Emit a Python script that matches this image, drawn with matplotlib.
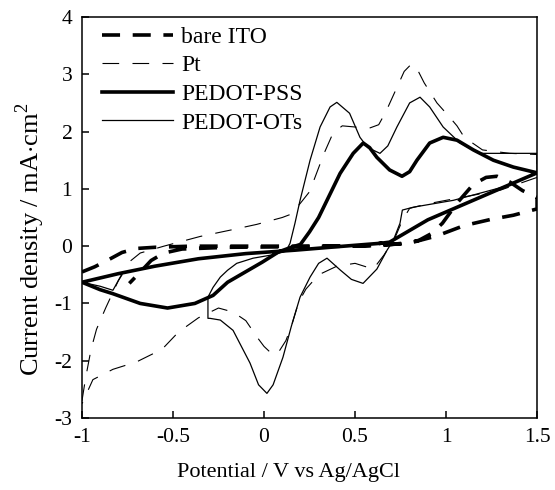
import matplotlib
matplotlib.use("Agg")
import matplotlib.pyplot as plt

plt.rcParams['font.family'] = ['Liberation Serif', 'DejaVu Serif']
plt.rcParams['mathtext.fontset'] = 'custom'
plt.rcParams['mathtext.rm'] = 'Liberation Serif'
plt.rcParams['axes.unicode_minus'] = False

# bare ITO (forward then reverse)
ito_v = [-1.0, -0.93, -0.85, -0.78, -0.7, -0.6, -0.4, 0.0, 0.4, 0.6, 0.75, 0.85, 0.92,
         0.98, 1.06, 1.15, 1.22, 1.28, 1.35, 1.42, 1.5, 1.5, 1.44, 1.37, 1.25, 1.1, 0.95,
         0.82, 0.7, 0.5, 0.2, -0.2, -0.45, -0.55, -0.62, -0.67, -0.74]
ito_i = [-0.45, -0.36, -0.23, -0.11, -0.04, -0.02, 0.0, 0.0, 0.0, 0.01, 0.04, 0.1, 0.22,
         0.4, 0.75, 1.08, 1.2, 1.22, 1.12, 0.97, 0.85, 0.65, 0.6, 0.54, 0.47, 0.36, 0.18,
         0.07, 0.03, 0.0, -0.01, -0.02, -0.05, -0.12, -0.25, -0.42, -0.65]

# Pt
pt_v = [-1.0, -0.98, -0.95, -0.92, -0.87, -0.8, -0.75, -0.68, -0.55, -0.35, -0.17, -0.04,
        0.1, 0.15, 0.2, 0.25, 0.28, 0.33, 0.38, 0.43, 0.5, 0.57, 0.63, 0.67, 0.72, 0.77,
        0.81, 0.84, 0.88, 0.95, 1.02, 1.06, 1.1, 1.2, 1.35, 1.5, 1.5, 1.3, 1.1, 0.9, 0.8,
        0.76, 0.72, 0.66, 0.6, 0.5, 0.4, 0.3, 0.23, 0.19, 0.15, 0.12, 0.08, 0.05, 0.0,
        -0.04, -0.1, -0.17, -0.25, -0.36, -0.47, -0.56, -0.7, -0.83, -0.94, -1.0]
pt_i = [-2.7, -2.3, -1.8, -1.45, -1.08, -0.6, -0.3, -0.12, 0.0, 0.17, 0.29, 0.38,
        0.5, 0.56, 0.75, 0.95, 1.2, 1.62, 1.98, 2.1, 2.08, 2.05, 2.12, 2.35, 2.7, 3.05,
        3.18, 3.1, 2.85, 2.5, 2.25, 2.1, 1.9, 1.68, 1.62, 1.6, 1.2, 0.98, 0.86, 0.74, 0.66,
        0.45, 0.15, -0.15, -0.4, -0.3, -0.35, -0.5, -0.75, -0.98, -1.4, -1.65, -1.85, -1.9, -1.75,
        -1.58, -1.3, -1.15, -1.08, -1.25, -1.5, -1.8, -2.02, -2.15, -2.33, -2.75]

# PEDOT-PSS
pss_v = [0.64, 0.4, 0.17, -0.1, -0.36, -0.6, -0.8, -1.0,
         -0.9, -0.83, -0.68, -0.53, -0.38, -0.28, -0.2, -0.01, 0.08, 0.15,
         0.2, 0.25, 0.3, 0.346, 0.418, 0.49, 0.545, 0.58, 0.62, 0.69, 0.758, 0.8, 0.84,
         0.91, 0.984, 1.06, 1.15, 1.26, 1.37, 1.5, 1.2, 0.9, 0.69, 0.64]
pss_i = [0.05, -0.01, -0.07, -0.13, -0.22, -0.35, -0.48, -0.63,
         -0.76, -0.83, -1.0, -1.08, -1.0, -0.86, -0.63, -0.28, -0.1, -0.02,
         0.03, 0.25, 0.5, 0.8, 1.27, 1.62, 1.8, 1.72, 1.55, 1.33, 1.22, 1.3, 1.5,
         1.8, 1.9, 1.85, 1.68, 1.5, 1.38, 1.28, 0.87, 0.46, 0.07, 0.05]

# PEDOT-OTs
ots_v = [-0.308, -0.28, -0.24, -0.2, -0.15, -0.06, 0.05, 0.12, 0.143, 0.17, 0.198, 0.253,
         0.308, 0.363, 0.4, 0.47, 0.527, 0.57, 0.637, 0.68, 0.73, 0.8, 0.857, 0.91, 0.984,
         1.077, 1.187, 1.3, 1.5, 1.5, 1.31, 1.04, 0.82, 0.76, 0.747, 0.71, 0.676, 0.62,
         0.544, 0.48, 0.42, 0.346, 0.3, 0.253, 0.198, 0.15, 0.104, 0.05, 0.016, -0.03,
         -0.077, -0.17, -0.24, -0.297, -0.308, -0.308]
ots_i = [-0.89, -0.72, -0.54, -0.42, -0.3, -0.21, -0.15, -0.09, 0.05, 0.4, 0.8, 1.5,
         2.08, 2.43, 2.51, 2.32, 1.9, 1.72, 1.62, 1.75, 2.08, 2.5, 2.6, 2.43, 2.08,
         1.8, 1.62, 1.62, 1.62, 1.27, 1.03, 0.8, 0.68, 0.63, 0.4, 0.1, -0.07, -0.4,
         -0.65, -0.58, -0.42, -0.21, -0.3, -0.54, -0.89, -1.4, -1.94, -2.42, -2.57, -2.42,
         -2.04, -1.47, -1.29, -1.26, -1.26, -0.89]
ots2_v = [-1.0, -0.9, -0.83, -0.8, -0.78]
ots2_i = [-0.63, -0.7, -0.77, -0.6, -0.5]

x_ticks = [-1, -0.5, 0, 0.5, 1, 1.5]
x_labels = ['-1', '-0.5', '0', '0.5', '1', '1.5']
y_ticks = [-3, -2, -1, 0, 1, 2, 3, 4]

fig = plt.figure(figsize=(5.55, 4.9), dpi=100)
ax = fig.add_axes([0.1477, 0.1469, 0.82, 0.8184])

ax.plot(ito_v, ito_i, color='black', lw=2.6, dashes=(5, 3.5), label='bare ITO')
ax.plot(pt_v, pt_i, color='black', lw=0.8, dashes=(15, 12), label='Pt')
ax.plot(pss_v, pss_i, color='black', lw=2.6, label='PEDOT-PSS')
ax.plot(ots_v, ots_i, color='black', lw=0.9, label='PEDOT-OTs')
ax.plot(ots2_v, ots2_i, color='black', lw=0.9)

ax.set_xlim(-1, 1.5)
ax.set_ylim(-3, 4)
ax.set_xticks(x_ticks)
ax.set_xticklabels(x_labels)
ax.set_yticks(y_ticks)
ax.tick_params(direction='in', length=5, width=1.1, labelsize=15.5,
               top=False, right=False, pad=7)
for s in ax.spines.values():
    s.set_linewidth(1.1)

ax.set_xlabel('Potential / V vs Ag/AgCl', fontsize=16, labelpad=12, x=0.453)
ax.set_ylabel('Current density / mA$\\cdot$cm$^{2}$', fontsize=19, labelpad=5, y=0.445)

ax.legend(loc='upper left', frameon=False, fontsize=17, handlelength=3.0,
          handletextpad=0.35, labelspacing=0.3, borderaxespad=0.2,
          bbox_to_anchor=(0.013, 1.012))

fig.savefig('out.png', dpi=100)
